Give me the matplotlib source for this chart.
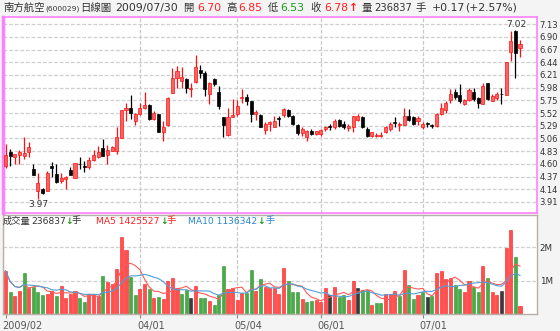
import numpy as np
import pandas as pd
import matplotlib
matplotlib.use('Agg')
import matplotlib.pyplot as plt
import matplotlib.transforms as mtransforms

plt.rcParams['font.family'] = ['DejaVu Sans', 'Noto Sans CJK TC']

# 南方航空 daily bars, 2009/02/19 - 2009/07/30
opens = [4.57, 4.81, 4.73, 4.76, 4.74, 4.82, 4.50, 4.10, 4.15, 4.11,
         4.57, 4.41, 4.29, 4.32, 4.49, 4.35, 4.60, 4.56, 4.55, 4.67,
         4.73, 4.88, 4.76, 4.84, 4.84, 5.07, 5.57, 5.62, 5.37, 5.50,
         5.62, 5.67, 5.41, 5.50, 5.17, 5.30, 5.89, 6.16, 6.10, 6.13,
         5.95, 6.09, 6.30, 6.24, 5.86, 6.13, 5.91, 5.44, 5.13, 5.45,
         5.50, 5.80, 5.81, 5.74, 5.51, 5.48, 5.21, 5.32, 5.27, 5.43,
         5.49, 5.57, 5.46, 5.31, 5.15, 5.09, 5.20, 5.14, 5.14, 5.23,
         5.29, 5.26, 5.39, 5.33, 5.25, 5.27, 5.39, 5.44, 5.24, 5.11,
         5.11, 5.11, 5.17, 5.24, 5.36, 5.30, 5.31, 5.46, 5.45, 5.37,
         5.26, 5.33, 5.30, 5.29, 5.50, 5.57, 5.75, 5.90, 5.85, 5.69,
         5.75, 5.91, 5.80, 5.69, 6.06, 5.74, 5.80, 5.87, 5.85, 6.62,
         7.00, 6.70]
highs = [4.96, 4.87, 4.78, 4.85, 5.08, 4.99, 4.60, 4.44, 4.16, 4.47,
         4.64, 4.60, 4.44, 4.38, 4.54, 4.62, 4.73, 4.66, 4.73, 4.85,
         4.93, 5.05, 4.94, 4.93, 5.26, 5.58, 5.71, 5.85, 5.53, 5.71,
         5.91, 5.69, 5.56, 5.50, 5.37, 5.81, 6.34, 6.37, 6.36, 6.16,
         6.07, 6.58, 6.39, 6.29, 6.08, 6.15, 6.01, 5.45, 5.62, 5.77,
         5.75, 5.95, 5.87, 5.74, 5.57, 5.50, 5.35, 5.38, 5.47, 5.47,
         5.62, 5.59, 5.49, 5.32, 5.27, 5.21, 5.23, 5.20, 5.23, 5.29,
         5.33, 5.41, 5.41, 5.37, 5.32, 5.47, 5.50, 5.47, 5.26, 5.18,
         5.15, 5.18, 5.29, 5.35, 5.44, 5.35, 5.61, 5.60, 5.47, 5.47,
         5.35, 5.35, 5.33, 5.53, 5.71, 5.74, 5.95, 5.95, 6.04, 5.77,
         5.97, 5.97, 5.81, 6.07, 6.07, 5.87, 5.91, 5.97, 6.45, 7.01,
         7.02, 6.85]
lows = [4.53, 4.56, 4.60, 4.60, 4.69, 4.72, 4.40, 3.97, 4.06, 4.10,
        4.37, 4.26, 4.26, 4.14, 4.39, 4.35, 4.50, 4.46, 4.50, 4.66,
        4.71, 4.74, 4.60, 4.83, 4.77, 5.06, 5.38, 5.41, 5.30, 5.48,
        5.59, 5.39, 5.39, 5.17, 5.02, 5.29, 5.89, 5.98, 5.98, 5.89,
        5.81, 6.07, 6.16, 5.83, 5.69, 6.01, 5.59, 5.09, 5.11, 5.44,
        5.47, 5.71, 5.67, 5.35, 5.39, 5.26, 5.14, 5.20, 5.26, 5.29,
        5.45, 5.44, 5.31, 5.13, 5.11, 5.02, 5.12, 5.12, 5.11, 5.20,
        5.21, 5.24, 5.27, 5.23, 5.19, 5.17, 5.38, 5.25, 5.08, 5.09,
        5.09, 5.09, 5.15, 5.20, 5.27, 5.20, 5.30, 5.37, 5.31, 5.31,
        5.23, 5.27, 5.25, 5.26, 5.48, 5.53, 5.71, 5.77, 5.71, 5.67,
        5.74, 5.74, 5.62, 5.69, 5.75, 5.73, 5.75, 5.69, 5.85, 6.47,
        6.16, 6.53]
closes = [4.76, 4.75, 4.78, 4.81, 4.79, 4.90, 4.40, 4.26, 4.08, 4.43,
          4.52, 4.27, 4.35, 4.37, 4.39, 4.61, 4.59, 4.55, 4.67, 4.76,
          4.81, 4.75, 4.85, 4.91, 5.08, 5.57, 5.62, 5.53, 5.50, 5.62,
          5.67, 5.41, 5.53, 5.18, 5.27, 5.80, 6.16, 6.28, 6.18, 5.98,
          5.98, 6.35, 6.24, 5.95, 6.06, 6.04, 5.65, 5.31, 5.45, 5.48,
          5.65, 5.81, 5.74, 5.50, 5.54, 5.27, 5.33, 5.35, 5.38, 5.42,
          5.59, 5.47, 5.32, 5.15, 5.23, 5.19, 5.14, 5.20, 5.21, 5.27,
          5.27, 5.37, 5.29, 5.26, 5.29, 5.46, 5.46, 5.26, 5.10, 5.17,
          5.13, 5.12, 5.26, 5.32, 5.34, 5.32, 5.47, 5.39, 5.33, 5.43,
          5.32, 5.32, 5.28, 5.50, 5.61, 5.71, 5.87, 5.81, 5.73, 5.75,
          5.93, 5.77, 5.71, 6.01, 5.77, 5.83, 5.87, 5.86, 6.45, 6.83,
          6.61, 6.78]
# volume in millions of 手
volumes = [1.29, 0.65, 0.53, 0.70, 1.24, 0.78, 0.80, 0.67, 0.57, 0.61,
           0.69, 0.53, 0.84, 0.49, 0.61, 0.68, 0.49, 0.36, 0.61, 0.61,
           0.55, 1.13, 0.96, 0.90, 1.36, 2.29, 1.92, 1.11, 0.56, 0.74,
           0.89, 0.75, 0.48, 0.51, 0.45, 0.99, 1.07, 0.78, 0.60, 0.72,
           0.48, 0.84, 0.48, 0.48, 0.40, 0.27, 0.56, 1.43, 0.75, 0.77,
           0.43, 0.62, 0.62, 1.31, 0.69, 1.04, 0.80, 0.77, 0.77, 0.60,
           1.37, 1.00, 0.65, 0.66, 0.45, 0.36, 0.40, 0.42, 0.35, 0.77,
           0.56, 0.81, 0.52, 0.57, 0.42, 1.00, 0.77, 0.72, 0.72, 0.27,
           0.32, 0.33, 0.60, 0.60, 0.70, 0.54, 1.32, 0.87, 0.44, 0.56,
           0.65, 0.51, 0.55, 1.22, 1.29, 1.06, 1.07, 0.87, 0.75, 0.65,
           1.00, 0.80, 0.66, 1.43, 1.07, 0.65, 0.58, 0.70, 1.97, 2.52,
           1.71, 0.24]
# r = up, g = down, k = unchanged (vs previous close)
vol_colors = ('rgrrgrgggr' 'rgrrrrggrr' 'rgrrrrrggr' 'rgrgrrrrgg' 'krggrgggrr'
              'rrggrgrrr' 'rrgggrggrr' 'rkrggrrkgg' 'rggrrrgrgg' 'rgkgrrrrgg'
              'rrggrgrrkr' 'rgr')

month_ticks = [0, 29, 50, 68, 90]
month_labels = ['2009/02', '04/01', '05/04', '06/01', '07/01']
price_ticks = [3.91, 4.14, 4.37, 4.60, 4.83, 5.06, 5.29, 5.52, 5.75,
               5.98, 6.21, 6.44, 6.67, 6.90, 7.13]
vol_ticks = [1, 2]
vol_labels = ['1M', '2M']

RED = '#ff2020'
GREEN = '#1a9a1a'
BLUE = '#2a86d0'
TXT = '#333333'
BG = '#f4f4f4'
W, H = 560, 331


def box(l, t, r, b):
    return [l / W, 1 - b / H, (r - l) / W, (b - t) / H]


def put(x, y, s, color=TXT, size=7.5, **kw):
    fig.text(x / W, 1 - y / H, s, color=color, fontsize=size,
             ha='left', va='center', **kw)


fig = plt.figure(figsize=(W / 100, H / 100), dpi=100, facecolor=BG)
ax = fig.add_axes(box(3, 17, 537, 213))
axv = fig.add_axes(box(3, 215, 537, 314), sharex=ax)

idx = np.arange(len(closes))
o = np.array(opens)
c = np.array(closes)
up = c >= o
face = np.where(up, '#ff6262', '#000000')
edge = np.where(up, '#ff1010', '#000000')

# candles
ax.vlines(idx, lows, highs, colors=list(edge), linewidth=0.9, zorder=2)
ax.bar(idx, np.maximum(np.abs(c - o), 0.014), bottom=np.minimum(o, c),
       width=0.66, color=list(face), edgecolor=list(edge), linewidth=0.5, zorder=3)

hi = int(np.argmax(highs))
lo = int(np.argmin(lows))
ax.annotate(f'{highs[hi]:.2f}', xy=(hi, highs[hi]), xytext=(1, 1),
            textcoords='offset points', ha='center', va='bottom',
            fontsize=6.6, color=TXT)
ax.annotate(f'{lows[lo]:.2f}', xy=(lo, lows[lo]), xytext=(0, -1),
            textcoords='offset points', ha='center', va='top',
            fontsize=6.6, color=TXT)

ax.set_facecolor('white')
ax.set_xlim(-0.54, 114.67)
ax.set_ylim(3.71, 7.26)
ax.set_yticks(price_ticks)
ax.set_yticklabels([f'{p:.2f}' for p in price_ticks])
ax.yaxis.tick_right()
ax.tick_params(axis='y', length=0, pad=2, labelsize=6.0, labelcolor=TXT)
ax.tick_params(axis='x', bottom=False, labelbottom=False)
ax.grid(axis='y', color='#cfcfcf', linestyle=(0, (3, 1.5)), linewidth=0.9)
for s in ax.spines.values():
    s.set_color('#ff80ff')
    s.set_linewidth(1.2)
ax.spines['left'].set_linewidth(2.5)

# volume
vface = {'r': '#ff5050', 'g': '#49aa49', 'k': '#3a3a3a'}
vedge = {'r': '#ff1a1a', 'g': '#2e962e', 'k': '#222222'}
axv.bar(idx, volumes, width=0.66, color=[vface[k] for k in vol_colors],
        edgecolor=[vedge[k] for k in vol_colors], linewidth=0.4, zorder=2)
vs = pd.Series(volumes)
ma5 = vs.rolling(5, min_periods=1).mean()
ma10 = vs.rolling(10, min_periods=1).mean()
axv.plot(idx, ma5, color='#ff5a5a', linewidth=0.8, zorder=3)
axv.plot(idx, ma10, color='#4f9fd8', linewidth=0.8, zorder=3)

axv.set_facecolor('white')
axv.set_ylim(0, 2.96)
axv.set_yticks(vol_ticks)
axv.set_yticklabels(vol_labels)
axv.yaxis.tick_right()
axv.tick_params(axis='y', length=0, pad=2, labelsize=6.3, labelcolor=TXT)
axv.grid(axis='y', color='#cfcfcf', linestyle=(0, (3, 1.5)), linewidth=0.9)
axv.set_xticks(month_ticks)
axv.set_xticklabels(month_labels)
axv.tick_params(axis='x', length=3, color='#888888', pad=2, labelsize=7,
                labelcolor='#555555')
shift = mtransforms.ScaledTranslation(-3 / 100, 0, fig.dpi_scale_trans)
for lab in axv.get_xticklabels():
    lab.set_horizontalalignment('left')
    lab.set_transform(lab.get_transform() + shift)
for s in axv.spines.values():
    s.set_color('#b8b0a8')
    s.set_linewidth(1)

for m in month_ticks[1:]:
    ax.axvline(m, color='#c8c8c8', linestyle=(0, (3, 1.5)), linewidth=0.9, zorder=1)
    axv.axvline(m, color='#c8c8c8', linestyle=(0, (3, 1.5)), linewidth=0.9, zorder=1)

# header line
put(3, 8, '南方航空', size=7.5)
put(45, 8.5, '(600029)', size=5.4)
put(80, 8, '日線圖', size=7.5)
put(115, 8, '2009/07/30', size=7.8)
put(183, 8, '開', size=7.5)
put(197, 8, f'{opens[-1]:.2f}', RED, 7.8)
put(226, 8, '高', size=7.5)
put(238, 8, f'{highs[-1]:.2f}', RED, 7.8)
put(268, 8, '低', size=7.5)
put(280, 8, f'{lows[-1]:.2f}', GREEN, 7.8)
put(310, 8, '收', size=7.5)
put(324, 8, f'{closes[-1]:.2f}', RED, 7.8)
put(349, 8, '↑', RED, 7.8, fontweight='bold')
put(362, 8, '量', size=7.5)
put(374, 8, '236837', size=7.2)
put(416, 8, '手', size=7.5)
put(432, 8, '+0.17', size=7.8)
put(465, 8, '(+2.57%)', size=7.8)

# volume header
put(3, 221, '成交量', size=6.7)
put(31, 221, '236837', size=6.6)
put(65, 221, '↓', GREEN, 6.6, fontweight='bold')
put(72, 221, '手', size=6.7)
put(96, 221, 'MA5 1425527', RED, 6.6)
put(160, 221, '↓', GREEN, 6.6, fontweight='bold')
put(167, 221, '手', RED, 6.7)
put(188, 221, 'MA10 1136342', BLUE, 6.6)
put(257, 221, '↓', GREEN, 6.6, fontweight='bold')
put(266, 221, '手', BLUE, 6.7)

fig.savefig('out.png', dpi=100, facecolor=BG)
